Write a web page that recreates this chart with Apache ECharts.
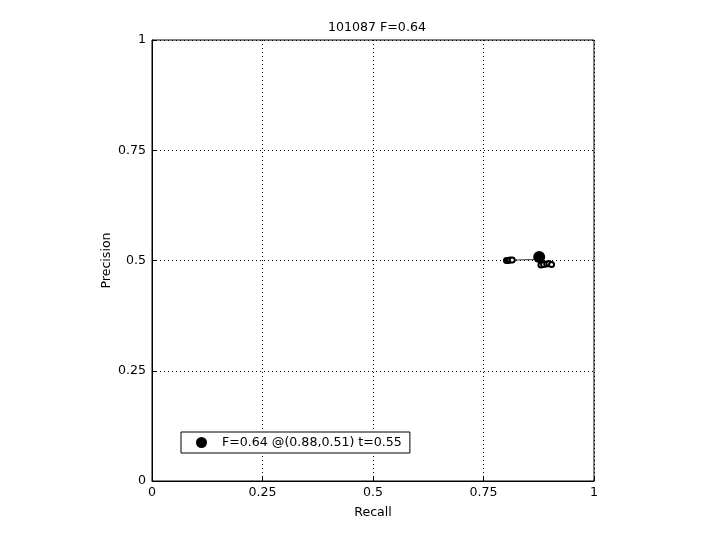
<!DOCTYPE html>
<html>
<head>
<meta charset="utf-8">
<script src="https://cdn.jsdelivr.net/npm/echarts@6/dist/echarts.min.js"></script>
<style>html,body{margin:0;padding:0;background:#fff;}#c{width:720px;height:540px;}</style>
</head>
<body>
<div id="c"></div>
<script>
const titleText = '101087 F=0.64';
const xTicks = [0, 0.25, 0.5, 0.75, 1];
const yTicks = [0, 0.25, 0.5, 0.75, 1];
const curveRecall = [0.802, 0.806, 0.810, 0.815, 0.862, 0.876, 0.880, 0.886, 0.893, 0.898, 0.904];
const curvePrecision = [0.500, 0.500, 0.501, 0.501, 0.502, 0.507, 0.490, 0.491, 0.492, 0.493, 0.491];
const curveMarked = [true, true, true, true, false, true, true, true, true, true, true];
const bestRecall = [0.876];
const bestPrecision = [0.508];
const bestLabel = 'F=0.64 @(0.88,0.51) t=0.55';

const font = 'DejaVu Sans';
const fs = 12.6;
const fmt = v => String(Math.round(v * 100) / 100);
const chart = echarts.init(document.getElementById('c'), null, {renderer: 'canvas'});
chart.setOption({
  animation: false,
  backgroundColor: '#fff',
  title: {
    text: titleText, left: 323, top: 16,
    textStyle: {fontFamily: font, fontSize: fs, fontWeight: 'normal', color: '#000'}
  },
  grid: {left: 152, top: 40, width: 442, height: 441, show: true, borderColor: '#000', borderWidth: 1, containLabel: false},
  legend: {
    left: 181, top: 432, orient: 'horizontal',
    data: [{name: bestLabel, icon: 'circle'}],
    itemWidth: 11, itemHeight: 11, itemGap: 10,
    padding: [4, 8, 4, 15],
    borderColor: '#000', borderWidth: 1, borderRadius: 0, backgroundColor: '#fff',
    itemStyle: {opacity: 1},
    textStyle: {fontFamily: font, fontSize: fs, color: '#000', padding: [0, 0, 0, 10]}
  },
  xAxis: {
    type: 'value', min: xTicks[0], max: xTicks[xTicks.length - 1], interval: 0.25,
    name: 'Recall', nameLocation: 'middle', nameGap: 25, nameMoveOverlap: false,
    nameTextStyle: {fontFamily: font, fontSize: fs, color: '#000'},
    axisLine: {show: true, onZero: false, lineStyle: {color: '#000', width: 1}},
    axisTick: {show: true, inside: true, length: 5, lineStyle: {color: '#000'}},
    axisLabel: {fontFamily: font, fontSize: fs, color: '#000', margin: 5, formatter: fmt},
    splitLine: {show: true, lineStyle: {color: '#000', type: [1, 3], width: 1}}
  },
  yAxis: {
    type: 'value', min: yTicks[0], max: yTicks[yTicks.length - 1], interval: 0.25,
    name: 'Precision', nameLocation: 'middle', nameGap: 39, nameMoveOverlap: false,
    nameTextStyle: {fontFamily: font, fontSize: fs, color: '#000'},
    axisLine: {show: true, onZero: false, lineStyle: {color: '#000', width: 1}},
    axisTick: {show: true, inside: true, length: 5, lineStyle: {color: '#000'}},
    axisLabel: {fontFamily: font, fontSize: fs, color: '#000', margin: 6, formatter: fmt},
    splitLine: {show: true, lineStyle: {color: '#000', type: [1, 3], width: 1}}
  },
  series: [
    {
      type: 'line', name: 'curve',
      data: curveRecall.map((r, i) => ({value: [r, curvePrecision[i]], symbol: curveMarked[i] ? 'emptyCircle' : 'none'})),
      symbol: 'emptyCircle', symbolSize: 5, showSymbol: true,
      lineStyle: {color: '#000', width: 0.8},
      itemStyle: {color: '#000', borderColor: '#000', borderWidth: 1},
      z: 3
    },
    {
      type: 'scatter', name: bestLabel,
      data: bestRecall.map((r, i) => [r, bestPrecision[i]]),
      symbol: 'circle', symbolSize: 12,
      itemStyle: {color: '#000', opacity: 1},
      z: 4
    }
  ]
});
</script>
</body>
</html>
